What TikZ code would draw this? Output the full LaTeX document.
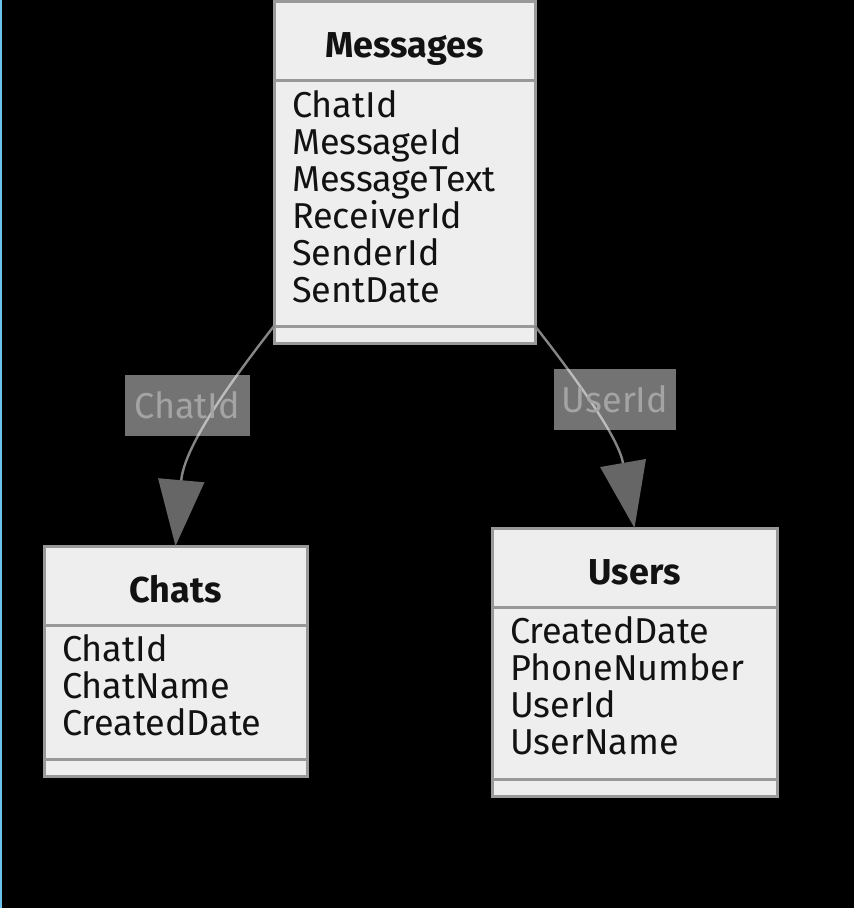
\documentclass[tikz,border=0pt]{standalone}
\usepackage{fontspec}
\setmainfont{Fira Sans}
\usepackage{xcolor}
\usepackage{tikz}
\usetikzlibrary{arrows.meta, positioning}
\definecolor{erbg}{HTML}{000000}
\definecolor{erfill}{HTML}{EEEEEE}
\definecolor{erline}{HTML}{999999}
\definecolor{erlink}{HTML}{858585}
\definecolor{erhead}{HTML}{666666}
\definecolor{erlabeltxt}{HTML}{A4A4A4}
\definecolor{edgeblue}{HTML}{6CC4EE}
\tikzset{
  tabhead/.style={rectangle, draw=erline, line width=3pt, fill=erfill,
    outer sep=0pt, inner sep=0pt, minimum width=#1, minimum height=79pt,
    text height=33pt, text depth=0pt,
    font=\fontsize{36}{37}\selectfont\bfseries, text=black!93},
  tabattr/.style={rectangle, draw=erline, line width=3pt, fill=erfill,
    outer sep=0pt, inner xsep=18pt, inner ysep=0pt, text width=#1,
    align=left, text height=25pt,
    font=\fontsize{36}{37}\selectfont, text=black!93},
  tabfoot/.style={rectangle, draw=erline, line width=3pt, fill=erfill,
    outer sep=0pt, inner sep=0pt, minimum width=#1, minimum height=17pt},
  rel/.style={line width=2.4pt, erlink,
    -{Triangle[length=66pt, width=46pt, fill=erhead, color=erhead]}},
  rellabel/.style={rectangle, fill=white, fill opacity=0.45, text opacity=1,
    text=erlabeltxt, inner sep=0pt, minimum height=61pt,
    font=\fontsize{36}{37}\selectfont},
}

\begin{document}
\begin{tikzpicture}[x=1pt, y=-1pt]
  \fill[erbg] (0,0) rectangle (854,908);
  \useasboundingbox (0,0) rectangle (854,908);
  \draw[edgeblue, line width=2pt] (1,0) -- (1,908);

  % Messages
  \node[tabhead=261pt, anchor=north west] (msghead) at (274,1) {Messages};
  \node[tabattr=225pt, minimum height=246pt, text depth=196pt,
    below=0pt of msghead] (msgattr)
    {ChatId\\ MessageId\\ MessageText\\ ReceiverId\\ SenderId\\ SentDate};
  \node[tabfoot=261pt, below=0pt of msgattr] (msgfoot) {};

  % Chats
  \node[tabhead=263pt, anchor=north west] (chathead) at (44,546) {Chats};
  \node[tabattr=227pt, minimum height=134pt, text depth=86pt,
    below=0pt of chathead] (chatattr)
    {ChatId\\ ChatName\\ CreatedDate};
  \node[tabfoot=263pt, below=0pt of chatattr] (chatfoot) {};

  % Users
  \node[tabhead=285pt, anchor=north west] (userhead) at (492,528) {Users};
  \node[tabattr=249pt, minimum height=172pt, text depth=124pt,
    below=0pt of userhead] (userattr)
    {CreatedDate\\ PhoneNumber\\ UserId\\ UserName};
  \node[tabfoot=285pt, below=0pt of userattr] (userfoot) {};

  \draw[rel] (msgattr.south west) to[out=-128, in=85] (chathead.north);
  \draw[rel] (msgattr.south east) to[out=-52, in=100] (userhead.north);

  \node[rellabel, minimum width=125pt] (lblchat) at (187,405) {ChatId};
  \node[rellabel, minimum width=122pt] (lbluser) at (615,399) {UserId};
\end{tikzpicture}
\end{document}
